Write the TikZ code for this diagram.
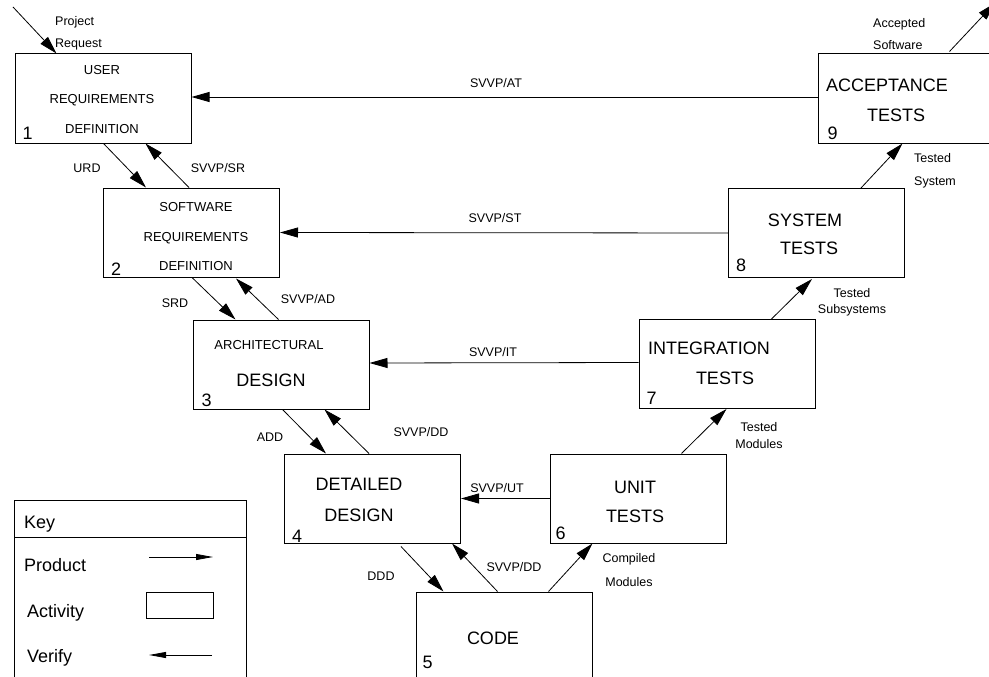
\documentclass[tikz,border=0pt]{standalone}
\usepackage{fontspec}
\setmainfont{Liberation Sans}
\usetikzlibrary{positioning,arrows.meta}

\tikzset{
  box/.style={draw, line width=1pt, minimum width=176pt, minimum height=89pt, inner sep=0pt},
  big/.style={font=\fontsize{18}{30}\selectfont, align=center, inner sep=0pt},
  small/.style={font=\fontsize{13}{29.5}\selectfont, align=center, inner sep=0pt},
  lbl/.style={font=\fontsize{12.5}{15}\selectfont, inner sep=0pt},
  num/.style={font=\fontsize{18}{20}\selectfont, inner sep=0pt, anchor=base west},
  prod/.style={-{Triangle[length=18pt,width=10pt]}, line width=0.8pt},
  keyarrow/.style={-{Triangle[length=17pt,width=6pt]}, line width=0.8pt},
}

\begin{document}
\begin{tikzpicture}[x=1pt,y=-1pt]
  \useasboundingbox (0,0) rectangle (989,677);

  % Define activities
  \node[box] (urd)  at (103,98.5)   {};
  \node[box] (srd)  at (191.5,232.5) {};
  \node[box] (ad)   at (281,364.5)  {};
  \node[box] (dd)   at (372.5,498.5) {};
  \node[box] (code) at (504,636.5)  {};
  \node[box] (ut)   at (638,498.5)  {};
  \node[box] (it)   at (727,364)    {};
  \node[box] (st)   at (816.5,233)  {};
  \node[box] (at)   at (906,98.5)   {};

  % Activity names
  \node[small] (urdtext) at (102,99.5) {USER\\REQUIREMENTS\\DEFINITION};
  \node[small] (srdtext) at (196,237)  {SOFTWARE\\REQUIREMENTS\\DEFINITION};
  \node[small] (adtexta) at (269,345)  {ARCHITECTURAL};
  \node[big]   (adtextb) at (271,380)  {DESIGN};
  \node[big, font=\fontsize{18}{31}\selectfont] (ddtext) at (359,499.5) {DETAILED\\DESIGN};
  \node[big]   (codetext) at (493,638) {CODE};
  \node[big, font=\fontsize{18}{29}\selectfont] (uttext) at (635,501.5) {UNIT\\TESTS};
  \node[big]   (ittext) at (709,363)  {INTEGRATION\\\hspace*{32pt}TESTS};
  \node[big, font=\fontsize{18}{28}\selectfont] (sttext) at (805,234) {SYSTEM\\\hspace*{8pt}TESTS};
  \node[big]   (attext) at (887,100)  {ACCEPTANCE\\\hspace*{18pt}TESTS};

  % Activity numbers
  \node[num] (n1) at ([xshift=8pt,yshift=4pt]urd.south west)  {1};
  \node[num] (n2) at ([xshift=8pt,yshift=2pt]srd.south west)  {2};
  \node[num] (n3) at ([xshift=9pt,yshift=3pt]ad.south west)   {3};
  \node[num] (n4) at ([xshift=8pt,yshift=1pt]dd.south west)   {4};
  \node[num] (n5) at ([xshift=7pt,yshift=13pt]code.south west) {5};
  \node[num] (n6) at ([xshift=6pt,yshift=4pt]ut.south west)   {6};
  \node[num] (n7) at ([xshift=8pt,yshift=5pt]it.south west)   {7};
  \node[num] (n8) at ([xshift=8pt,yshift=7pt]st.south west)   {8};
  \node[num] (n9) at ([xshift=10pt,yshift=4pt]at.south west)  {9};

  % Free ends
  \coordinate (req) at (13,7);
  \coordinate (acc) at (995,3);

  % Products
  \draw[prod] (req) -- ([xshift=42pt]urd.north west);
  \draw[prod] ([xshift=89pt]urd.south west) -- ([xshift=43pt]srd.north west);
  \draw[prod] ([xshift=89pt]srd.south west) -- ([xshift=43pt]ad.north west);
  \draw[prod] ([xshift=90pt]ad.south west) -- ([xshift=42pt]dd.north west);
  \draw[prod] ([xshift=117pt,yshift=-3pt]dd.south west) -- ([xshift=28pt]code.north west);
  \draw[prod] ([xshift=133pt]code.north west) -- ([xshift=43pt]ut.south west);
  \draw[prod] ([xshift=132pt]ut.north west) -- ([xshift=88pt]it.south west);
  \draw[prod] ([xshift=133pt]it.north west) -- ([xshift=84pt,yshift=-1pt]st.south west);
  \draw[prod] ([xshift=133pt]st.north west) -- ([xshift=85pt]at.south west);
  \draw[prod] ([xshift=132pt,yshift=2pt]at.north west) -- (acc);

  % Verification
  \draw[prod] ([xshift=86pt]srd.north west) -- ([xshift=131pt]urd.south west);
  \draw[prod] ([xshift=86pt]ad.north west) -- ([xshift=133pt,yshift=-1pt]srd.south west);
  \draw[prod] ([xshift=85pt]dd.north west) -- ([xshift=132pt]ad.south west);
  \draw[prod] ([xshift=82pt]code.north west) -- ([xshift=-9pt]dd.south east);
  \draw[prod] (ut.west) -- (dd.east);
  \draw[prod] ([yshift=1.5pt]it.west) -- ([yshift=1.5pt]ad.east);
  \draw[prod] (st.west) -- (srd.east);
  \draw[prod] ([yshift=1.5pt]at.west) -- ([yshift=1.5pt]urd.east);

  % Connector labels
  \node[lbl, align=left, anchor=west, font=\fontsize{12.5}{22}\selectfont] (reqlbl) at (55,33) {Project\\Request};
  \node[lbl] (urdlbl)  at (87,168)  {URD};
  \node[lbl] (srlbl)   at (218,168) {SVVP/SR};
  \node[lbl] (atlbl)   at (496,83)  {SVVP/AT};
  \node[lbl] (srdlbl)  at (175,303) {SRD};
  \node[lbl] (adlbl)   at (308,299) {SVVP/AD};
  \node[lbl] (stlbl)   at (495,218) {SVVP/ST};
  \node[lbl] (itlbl)   at (493,352) {SVVP/IT};
  \node[lbl] (addlbl)  at (270,437) {ADD};
  \node[lbl] (ddlbla)  at (421,432) {SVVP/DD};
  \node[lbl] (utlbl)   at (497,488) {SVVP/UT};
  \node[lbl] (dddlbl)  at (381,576) {DDD};
  \node[lbl] (ddlblb)  at (514,567) {SVVP/DD};
  \node[lbl, align=center, font=\fontsize{12.5}{24}\selectfont] (cmlbl) at (629,570) {Compiled\\Modules};
  \node[lbl, align=center, font=\fontsize{12.5}{17}\selectfont] (tmlbl) at (759,436) {Tested\\Modules};
  \node[lbl, align=center, font=\fontsize{12.5}{16}\selectfont] (tsslbl) at (852,302) {Tested\\Subsystems};
  \node[lbl, align=left, anchor=west, font=\fontsize{12.5}{23}\selectfont] (tslbl) at (914,171) {Tested\\System};
  \node[lbl, align=left, anchor=west, font=\fontsize{12.5}{22}\selectfont] (acclbl) at (873,34) {Accepted\\Software};

  % Key
  \node[draw, line width=1pt, minimum width=232pt, minimum height=200pt, anchor=north west, inner sep=0pt] (key) at (14,500) {};
  \draw[line width=1pt] ([yshift=-37pt]key.north west) -- ([yshift=-37pt]key.north east);
  \node[big, anchor=west] (keyk)   at (24,524) {Key};
  \node[big, anchor=west] (keyp)   at (24,565) {Product};
  \node[big, anchor=west] (keya)   at (27,613) {Activity};
  \node[big, anchor=west] (keyv)   at (27,658) {Verify};
  \coordinate (kp1) at (149,557);
  \coordinate (kp2) at (213,557);
  \draw[keyarrow] (kp1) -- (kp2);
  \node[draw, line width=1pt, minimum width=67pt, minimum height=26pt, inner sep=0pt] (keybox) at (179.5,605) {};
  \coordinate (kv1) at (212,655);
  \coordinate (kv2) at (149,655);
  \draw[keyarrow] (kv1) -- (kv2);
\end{tikzpicture}
\end{document}
